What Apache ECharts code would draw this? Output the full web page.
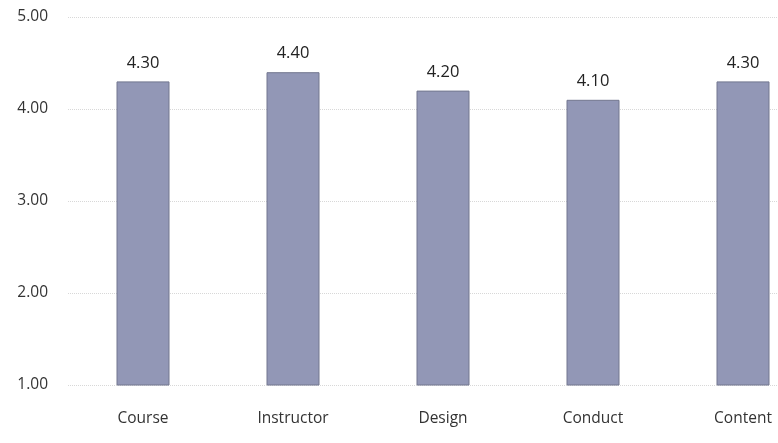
<!DOCTYPE html>
<html><head><meta charset="utf-8">
<script src="https://cdn.jsdelivr.net/npm/echarts@6/dist/echarts.min.js"></script>
<style>html,body{margin:0;padding:0;background:#fff;overflow:hidden;width:778px;height:443px}#c{width:818px;height:443px}</style>
</head><body><div id="c"></div>
<script>
const categories = ["Course", "Instructor", "Design", "Conduct", "Content"];
const scores = [4.30, 4.40, 4.20, 4.10, 4.30];
const yTicks = [1, 5, 1];

const chart = echarts.init(document.getElementById('c'));
chart.setOption({
  animation: false,
  grid: { left: 68, top: 17, bottom: 58, right: 0, containLabel: false },
  xAxis: {
    type: 'category', data: categories,
    axisLine: { show: false }, axisTick: { show: false },
    axisLabel: { color: '#333', fontSize: 15.5, fontFamily: 'Open Sans', margin: 26 }
  },
  yAxis: {
    type: 'value', min: yTicks[0], max: yTicks[1], interval: yTicks[2],
    axisLine: { show: false }, axisTick: { show: false },
    axisLabel: { color: '#333', fontSize: 15.5, fontFamily: 'Open Sans', margin: 20,
      formatter: v => v.toFixed(2) },
    splitLine: { lineStyle: { color: '#d8d8d8', type: 'dotted', width: 1 } }
  },
  series: [{
    type: 'bar', data: scores, barWidth: 53,
    itemStyle: { color: '#9297b6', borderColor: '#72778f', borderWidth: 1 },
    label: { show: true, position: 'top', distance: 10, color: '#222', fontSize: 16.5,
      fontFamily: 'Open Sans', formatter: p => p.value.toFixed(2) }
  }]
});
</script></body></html>
